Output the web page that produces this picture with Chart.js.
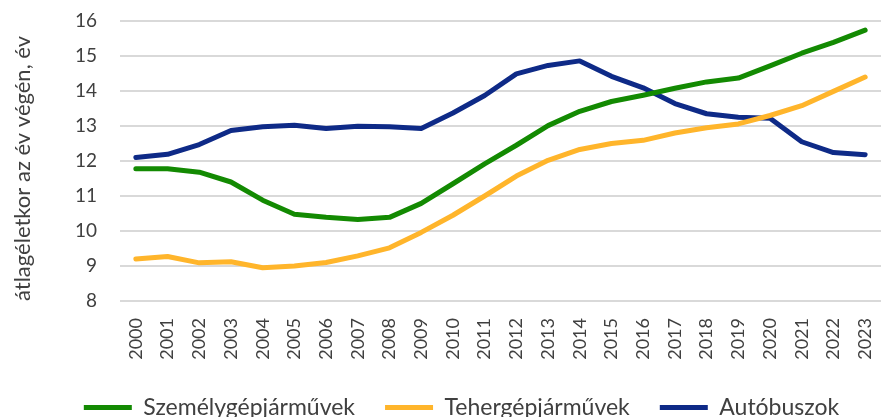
<!DOCTYPE html>
<html>
<head>
<meta charset="utf-8">
<script src="https://cdn.jsdelivr.net/npm/chart.js@4.4.1/dist/chart.umd.min.js"></script>
<style>
  html, body { margin: 0; padding: 0; background: #fff; }
  #wrap { width: 881px; height: 417px; }
</style>
</head>
<body>
<div id="wrap"><canvas id="c" width="881" height="417"></canvas></div>
<script>
const years = ['2000','2001','2002','2003','2004','2005','2006','2007','2008','2009','2010','2011','2012','2013','2014','2015','2016','2017','2018','2019','2020','2021','2022','2023'];
const szemelygepjarmuvek = [11.78, 11.78, 11.68, 11.40, 10.88, 10.48, 10.39, 10.33, 10.39, 10.79, 11.35, 11.92, 12.45, 13.01, 13.42, 13.70, 13.88, 14.08, 14.26, 14.37, 14.72, 15.08, 15.39, 15.74];
const tehergepjarmuvek = [9.20, 9.27, 9.09, 9.12, 8.95, 9.00, 9.10, 9.29, 9.52, 9.96, 10.45, 11.00, 11.57, 12.02, 12.33, 12.50, 12.59, 12.80, 12.95, 13.06, 13.30, 13.58, 13.99, 14.40];
const autobuszok = [12.10, 12.19, 12.47, 12.87, 12.98, 13.02, 12.93, 12.99, 12.98, 12.93, 13.37, 13.87, 14.49, 14.73, 14.86, 14.42, 14.09, 13.64, 13.35, 13.25, 13.22, 12.55, 12.24, 12.18];
const seriesNames = ['Személygépjárművek', 'Tehergépjárművek', 'Autóbuszok'];
const seriesColors = ['#138a02', '#ffb52b', '#0e2a87'];
const yTitle = 'átlagéletkor az év végén, év';

const FONT = 'Lato, "Open Sans", sans-serif';
const TEXT = '#404040';

const legendShift = {
  id: 'legendShift',
  afterLayout(chart) {
    const lg = chart.legend;
    if (lg) { lg.left += 21; lg.right += 21; }
  }
};

const mk = (i, data) => ({
  label: seriesNames[i],
  data: data,
  borderColor: seriesColors[i],
  backgroundColor: seriesColors[i],
  borderWidth: 5,
  pointRadius: 0,
  pointHoverRadius: 0,
  tension: 0,
  borderCapStyle: 'round',
  borderJoinStyle: 'round',
  fill: false
});

new Chart(document.getElementById('c'), {
  type: 'line',
  data: {
    labels: years,
    datasets: [mk(0, szemelygepjarmuvek), mk(1, tehergepjarmuvek), mk(2, autobuszok)]
  },
  plugins: [legendShift],
  options: {
    responsive: false,
    animation: false,
    layout: { padding: { top: 0, right: 0, bottom: -12, left: 0 } },
    plugins: {
      tooltip: { enabled: false },
      legend: {
        position: 'bottom',
        labels: {
          font: { family: FONT, size: 23 },
          color: TEXT,
          boxWidth: 48,
          boxHeight: 5,
          padding: 30,
          generateLabels(chart) {
            return Chart.defaults.plugins.legend.labels.generateLabels(chart).map(l => Object.assign(l, { lineWidth: 0 }));
          }
        }
      }
    },
    scales: {
      x: {
        offset: true,
        grid: { display: false, drawTicks: false },
        border: { display: false },
        ticks: {
          minRotation: 90, maxRotation: 90,
          padding: 17,
          autoSkip: false,
          font: { family: FONT, size: 18 },
          color: TEXT
        },
        afterFit(scale) { scale.height = 65; scale.paddingRight = 0; scale.paddingLeft = 0; }
      },
      y: {
        min: 8, max: 16,
        grid: { color: '#d9d9d9', lineWidth: 2, drawTicks: false },
        border: { display: false },
        ticks: {
          stepSize: 1,
          padding: 23,
          font: { family: FONT, size: 19 },
          color: TEXT
        },
        title: {
          display: true,
          text: yTitle,
          align: 'start',
          font: { family: FONT, size: 22 },
          color: TEXT,
          padding: { top: 10, bottom: 0 }
        },
        afterFit(scale) { scale.width = 120; scale.paddingTop = 21; scale.paddingBottom = 0; }
      }
    }
  }
});
</script>
</body>
</html>
